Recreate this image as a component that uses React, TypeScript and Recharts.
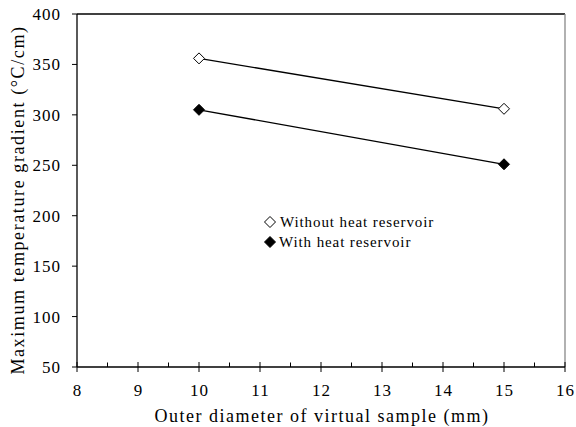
import React from 'react';
import {
  LineChart,
  Line,
  XAxis,
  YAxis,
  Legend,
  ReferenceLine
} from 'recharts';

const diameters = [10, 15];
const withoutReservoir = [356, 306];
const withReservoir = [305, 251];
const xMajorTicks = [8, 9, 10, 11, 12, 13, 14, 15, 16];
const yTicks = [50, 100, 150, 200, 250, 300, 350, 400];
const seriesNames = ['Without heat reservoir', 'With heat reservoir'];

const xAllTicks = xMajorTicks.flatMap((t, i) => (i < xMajorTicks.length - 1 ? [t, t + 0.5] : [t]));

const data = diameters.map((d, i) => ({
  diameter: d,
  without: withoutReservoir[i],
  withRes: withReservoir[i]
}));

const FONT = '"Liberation Serif", "Times New Roman", serif';

function diamond(cx: number, cy: number, r: number) {
  return `${cx},${cy - r} ${cx + r},${cy} ${cx},${cy + r} ${cx - r},${cy}`;
}

function makeDot(filled: boolean) {
  return (props: any) => {
    const { cx, cy, index } = props;
    if (cx == null || cy == null) return <g key={`d${index}`} />;
    return (
      <polygon
        key={`d${index}`}
        points={diamond(cx, cy, 5.5)}
        fill={filled ? '#000' : '#fff'}
        stroke="#000"
        strokeWidth={1}
      />
    );
  };
}

function XTick(props: any) {
  const { x, y, payload } = props;
  const v = payload.value as number;
  const major = Number.isInteger(v);
  if (!major) {
    return <line x1={x} x2={x} y1={y - 4.5} y2={y} stroke="#000" strokeWidth={1} />;
  }
  return (
    <g>
      <line x1={x} x2={x} y1={y - 5} y2={y + 5} stroke="#000" strokeWidth={1} />
      <text
        x={x + 0.5}
        y={y + 29}
        textAnchor="middle"
        fontSize={17}
        letterSpacing={1}
        fill="#000"
        fontFamily={FONT}
      >
        {v}
      </text>
    </g>
  );
}

function renderLegend() {
  return (
    <div style={{ fontFamily: FONT, fontSize: 15, letterSpacing: 0.9, color: '#000', lineHeight: '20px' }}>
      {seriesNames.map((name, i) => (
        <div key={name} style={{ display: 'flex', alignItems: 'center', whiteSpace: 'nowrap' }}>
          <svg width={14} height={14} style={{ marginRight: i === 0 ? 3 : 2 }}>
            <polygon
              points={diamond(7, 7, 5.5)}
              fill={i === 0 ? '#fff' : '#000'}
              stroke="#000"
              strokeWidth={1}
            />
          </svg>
          <span>{name}</span>
        </div>
      ))}
    </div>
  );
}

export default function App() {
  return (
    <div style={{ position: 'absolute', left: 0, top: 0, width: 576, height: 427, background: '#fff' }}>
      <LineChart
        width={576}
        height={427}
        data={data}
        margin={{ top: 14, right: 11, left: 17, bottom: 0 }}
        style={{ fontFamily: FONT }}
      >
        <XAxis
          dataKey="diameter"
          type="number"
          domain={[8, 16]}
          ticks={xAllTicks}
          interval={0}
          height={60}
          tickSize={0}
          tickMargin={0}
          tickLine={false}
          axisLine={{ stroke: '#000', strokeWidth: 1.3 }}
          tick={<XTick />}
          label={{
            content: (p: any) => {
              const vb = p.viewBox;
              return (
                <text
                  x={vb.x + vb.width / 2 + 1}
                  y={vb.y + 55}
                  textAnchor="middle"
                  fontSize={18}
                  letterSpacing={1.5}
                  fill="#000"
                  fontFamily={FONT}
                >
                  Outer diameter of virtual sample (mm)
                </text>
              );
            }
          }}
        />
        <YAxis
          type="number"
          domain={[50, 400]}
          ticks={yTicks}
          interval={0}
          width={60}
          tickSize={5}
          tickMargin={11}
          tickLine={{ stroke: '#000' }}
          axisLine={{ stroke: '#000', strokeWidth: 1.3 }}
          tick={{ fill: '#000', fontSize: 17, letterSpacing: 1, fontFamily: FONT }}
          label={{
            content: () => (
              <text
                x={24}
                y={200}
                transform="rotate(-90 24 200)"
                textAnchor="middle"
                fontSize={18}
                fill="#000"
                fontFamily={FONT}
                letterSpacing={1.6}
              >
                Maximum temperature gradient (°C/cm)
              </text>
            )
          }}
        />
        <ReferenceLine y={400} stroke="#000" strokeWidth={1.3} />
        <ReferenceLine x={16} stroke="#888" strokeWidth={1.3} />
        <Line
          dataKey="without"
          name={seriesNames[0]}
          stroke="#000"
          strokeWidth={1.3}
          dot={makeDot(false)}
          isAnimationActive={false}
        />
        <Line
          dataKey="withRes"
          name={seriesNames[1]}
          stroke="#000"
          strokeWidth={1.3}
          dot={makeDot(true)}
          isAnimationActive={false}
        />
        <Legend
          layout="vertical"
          align="center"
          verticalAlign="middle"
          content={renderLegend}
          wrapperStyle={{ left: 263, top: 212, width: 'auto' }}
        />
      </LineChart>
    </div>
  );
}
